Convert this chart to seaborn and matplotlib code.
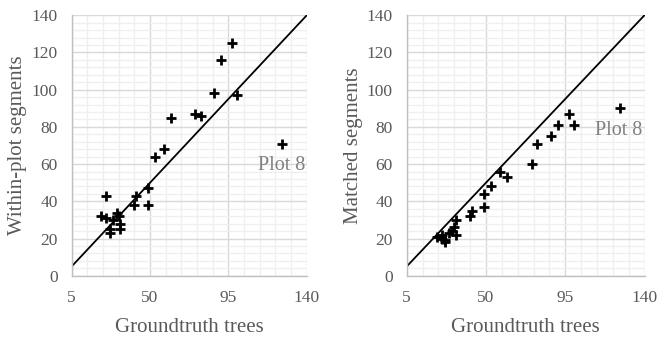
import numpy as np
import pandas as pd
import matplotlib
matplotlib.use('Agg')
import matplotlib.pyplot as plt
import seaborn as sns

# groundtruth tree counts per plot (same plots in both panels)
trees = [97, 91, 87, 100, 76, 79, 62, 58, 53, 126, 49, 49, 42, 41,
         25, 22, 25, 27, 29, 31, 32, 33, 33, 27]
within_plot = [125, 116, 98, 97, 87, 86, 85, 68, 64, 71, 47, 38, 43, 38,
               43, 32, 31, 25, 30, 34, 32, 28, 25, 23]
matched = [87, 81, 75, 81, 60, 71, 53, 56, 48, 90, 44, 37, 35, 32,
           22, 21, 20, 19, 23, 24, 26, 22, 30, 18]

x_label = 'Groundtruth trees'
y_labels = ['Within-plot segments', 'Matched segments']
note = 'Plot 8'
note_pos = [(112, 59), (112, 78)]

df = pd.DataFrame({'trees': trees, 'within': within_plot, 'matched': matched})

sns.set_style('white')
plt.rcParams['font.family'] = ['Liberation Serif', 'DejaVu Serif']

gray = '#595959'
fig = plt.figure(figsize=(6.57, 3.38), dpi=100)
axes = [fig.add_axes([0.109, 0.184, 0.358, 0.771]),
        fig.add_axes([0.619, 0.184, 0.362, 0.771])]

for ax, col, ylab, pos in zip(axes, ['within', 'matched'], y_labels, note_pos):
    ax.set_axisbelow(True)
    ax.axline((5, 5), slope=1, color='black', lw=1.3, zorder=2)
    sns.scatterplot(data=df, x='trees', y=col, marker='+', s=60,
                    color='black', linewidth=2, ax=ax, zorder=3)
    ax.set_xlim(5, 140)
    ax.set_ylim(0, 140)
    ax.set_xticks(np.arange(5, 141, 45))
    ax.set_xticks(np.arange(5, 141, 9), minor=True)
    ax.set_yticks(np.arange(0, 141, 20))
    ax.set_yticks(np.arange(0, 141, 4), minor=True)
    ax.grid(which='major', color='#d9d9d9', lw=1.0)
    ax.grid(which='minor', color='#efefef', lw=0.9)
    for s in ['top', 'right']:
        ax.spines[s].set_visible(False)
    for s in ['left', 'bottom']:
        ax.spines[s].set_color('#bfbfbf')
        ax.spines[s].set_linewidth(1.0)
    ax.tick_params(which='major', length=4, color='#bfbfbf', labelsize=12.5,
                   labelcolor=gray, pad=6)
    ax.tick_params(which='minor', length=0)
    ax.set_xlabel(x_label, fontsize=15, color=gray, labelpad=9)
    ax.set_ylabel(ylab, fontsize=15, color=gray, labelpad=3)
    ax.text(pos[0], pos[1], note, fontsize=14.5, color='#808080', va='center')

fig.savefig('out.png', dpi=100)
